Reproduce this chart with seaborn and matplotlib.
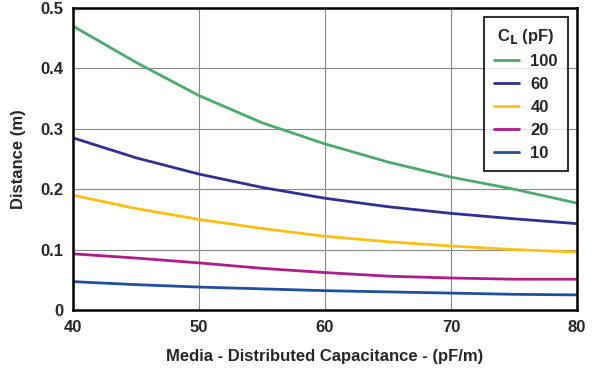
import pandas as pd
import matplotlib.pyplot as plt
import seaborn as sns

#capacitance values along x axis (pF/m)
cap = [40, 45, 50, 55, 60, 65, 70, 75, 80]

#distance curves, one per load capacitance
d_100 = [0.47, 0.41, 0.355, 0.31, 0.275, 0.245, 0.22, 0.2, 0.177]
d_60 = [0.285, 0.252, 0.225, 0.203, 0.185, 0.171, 0.16, 0.151, 0.143]
d_40 = [0.19, 0.168, 0.15, 0.135, 0.122, 0.113, 0.106, 0.1, 0.096]
d_20 = [0.093, 0.086, 0.078, 0.069, 0.062, 0.056, 0.053, 0.051, 0.051]
d_10 = [0.047, 0.042, 0.038, 0.035, 0.032, 0.030, 0.028, 0.026, 0.025]

labels = ["100", "60", "40", "20", "10"]
colors = ["#4aab6d", "#2e3192", "#fdc010", "#b01c8c", "#1f4e9f"]

#build long dataframe for seaborn
rows = []
for lab, vals in zip(labels, [d_100, d_60, d_40, d_20, d_10]):
    for c, v in zip(cap, vals):
        rows.append({"cap": c, "dist": v, "CL": lab})
df = pd.DataFrame(rows)

sns.set_style("white")
plt.rcParams["font.family"] = ["Liberation Sans", "DejaVu Sans"]
plt.rcParams["font.weight"] = "bold"

fig = plt.figure(figsize=(6.05, 3.75), dpi=100)
ax = fig.add_axes([0.1207, 0.1733, 0.833, 0.8054])

sns.lineplot(data=df, x="cap", y="dist", hue="CL", hue_order=labels,
             palette=colors, linewidth=2, ax=ax)

ax.set_xlim(40, 80)
ax.set_ylim(0, 0.5)
ax.set_xticks([40, 50, 60, 70, 80])
ax.set_yticks([0, 0.1, 0.2, 0.3, 0.4, 0.5])
ax.set_yticklabels(["0", "0.1", "0.2", "0.3", "0.4", "0.5"])
ax.grid(True, color="#888888", linewidth=0.8)
for s in ax.spines.values():
    s.set_color("black")
    s.set_linewidth(1.8)
ax.tick_params(axis="both", length=0, labelsize=12, pad=7)
for t in ax.get_xticklabels() + ax.get_yticklabels():
    t.set_fontweight("bold")

ax.set_xlabel("Media - Distributed Capacitance - (pF/m)", fontsize=12, fontweight="bold", labelpad=10)
ax.set_ylabel("Distance (m)", fontsize=12, fontweight="bold", labelpad=10)

leg = ax.legend(title=r"C$_\mathbf{L}$ (pF)", loc="upper right", bbox_to_anchor=(0.982, 0.97),
                borderaxespad=0, frameon=True, fancybox=False, fontsize=12, title_fontsize=12,
                handlelength=1.5, handletextpad=0.7, labelspacing=0.48, borderpad=0.6)
leg.get_frame().set_edgecolor("black")
leg.get_frame().set_linewidth(1.5)
leg.get_title().set_fontweight("bold")
for t in leg.get_texts():
    t.set_fontweight("bold")

fig.savefig("out.png", dpi=100)
